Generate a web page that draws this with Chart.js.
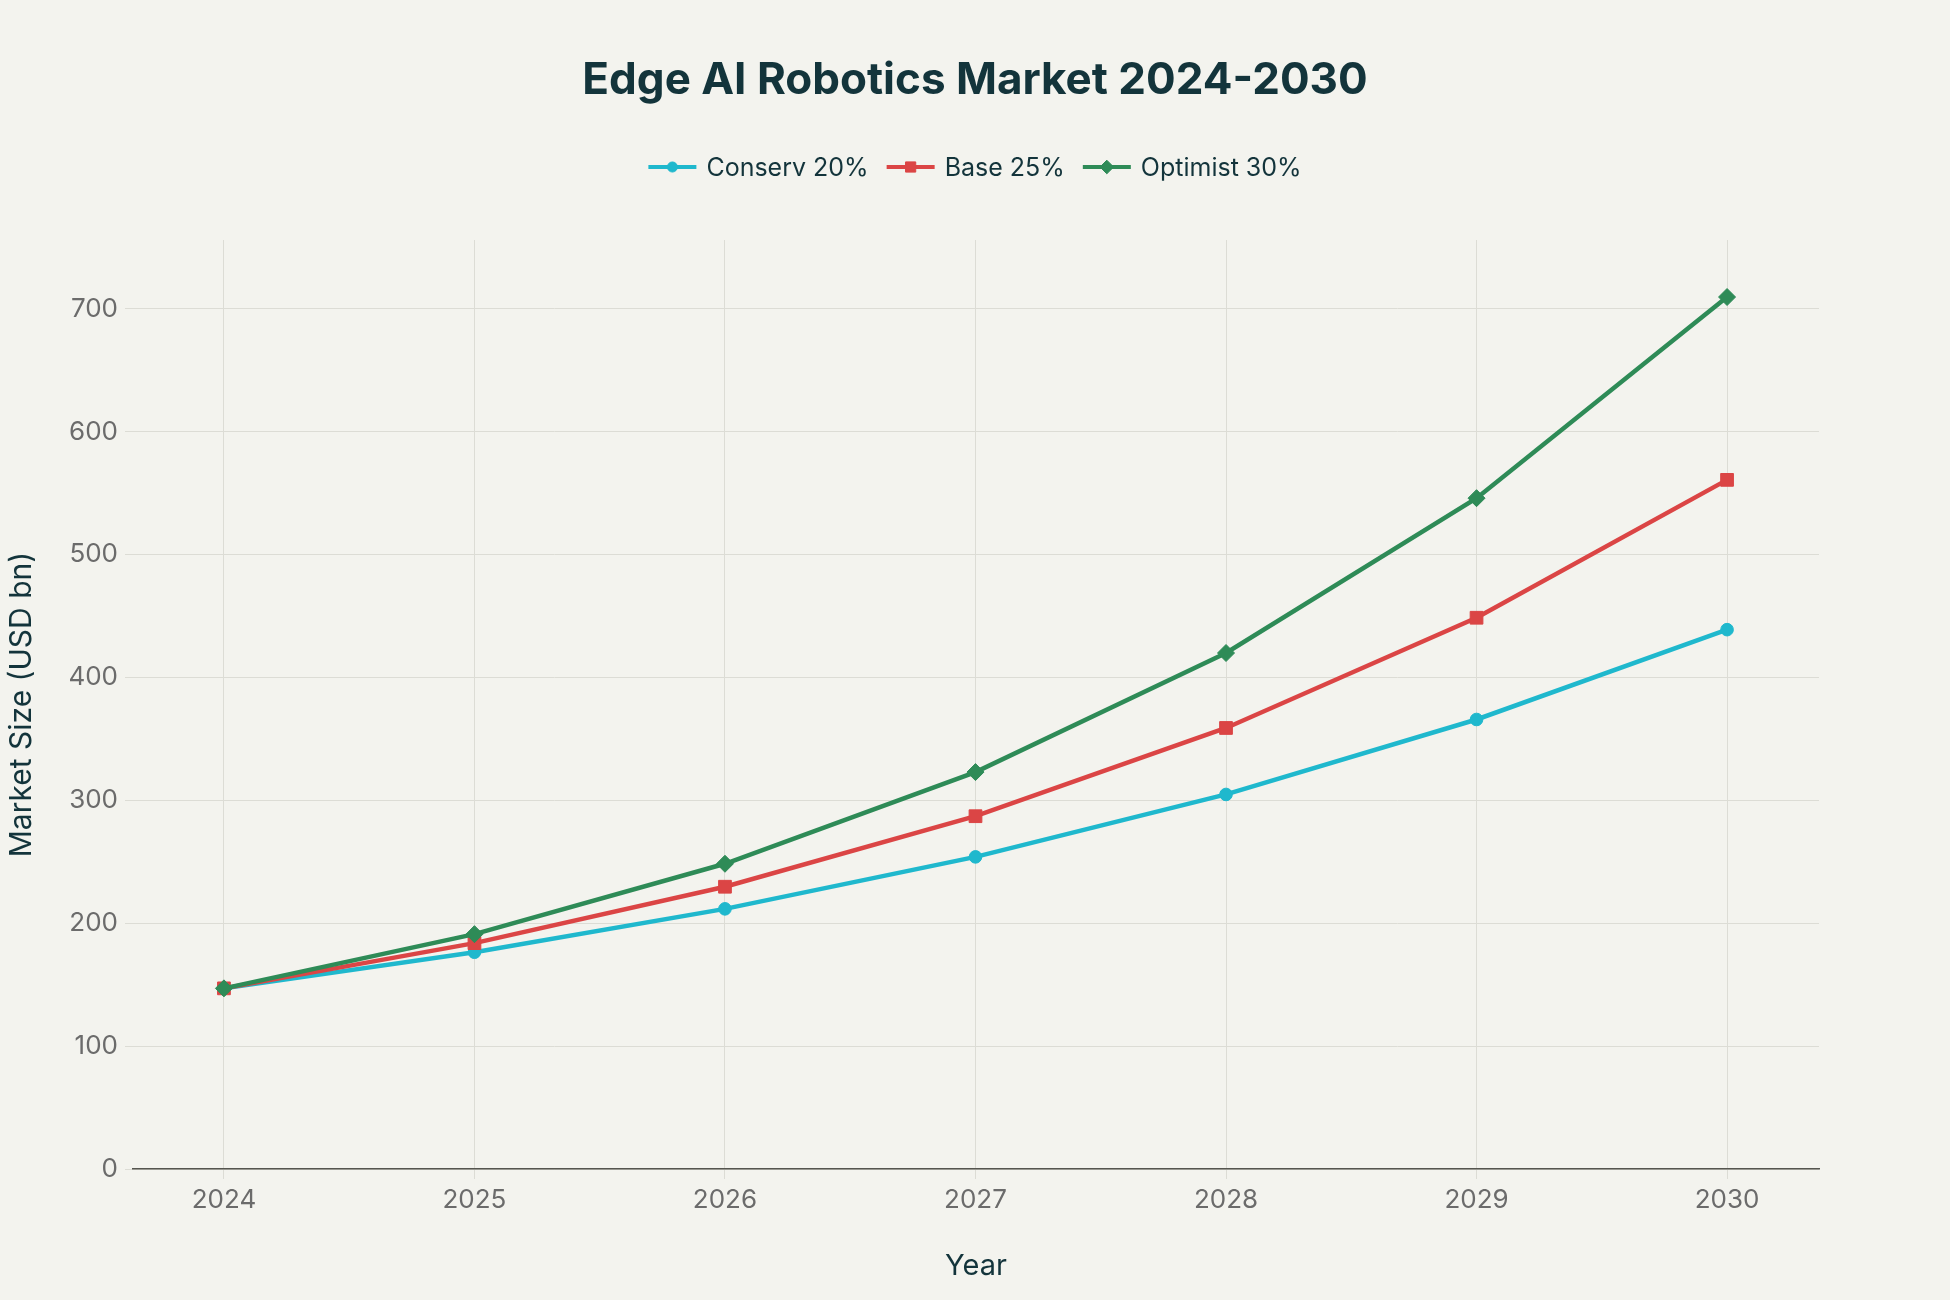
<!DOCTYPE html>
<html lang="en">
<head>
  <meta charset="UTF-8" />
  <title>Edge AI Robotics Market 2024-2030</title>
  <script src="https://cdn.jsdelivr.net/npm/chart.js"></script>
  <style>
    body { margin: 0; background: #f3f3ee; }
    #wrap { width: 1950px; height: 1300px; }
  </style>
</head>
<body>
  <div id="wrap"><canvas id="marketChart"></canvas></div>

  <script>
    // values (USD bn)
    const years = [2024, 2025, 2026, 2027, 2028, 2029, 2030];
    const conserv = [147, 176.4, 211.7, 254.0, 304.8, 365.8, 438.9];
    const base = [147, 183.8, 229.7, 287.1, 358.9, 448.6, 560.8];
    const optimist = [147, 191.1, 248.4, 323.0, 419.9, 545.9, 709.6];
    const yTicks = [0, 100, 200, 300, 400, 500, 600, 700];
    const chartTitle = 'Edge AI Robotics Market 2024-2030';

    const FONT = 'Inter';
    const DARK = '#13343b';
    const GRID = '#dcdcd5';

    // fill the page colour behind the chart
    const bgFill = {
      id: 'bgFill',
      beforeDraw(chart) {
        const ctx = chart.ctx;
        ctx.save();
        ctx.fillStyle = '#f3f3ee';
        ctx.fillRect(0, 0, chart.width, chart.height);
        ctx.restore();
      }
    };

    // title centred on the whole canvas + legend with line/marker symbols
    const header = {
      id: 'header',
      afterDraw(chart) {
        const ctx = chart.ctx;
        const sets = chart.data.datasets;
        ctx.save();
        ctx.textBaseline = 'middle';
        ctx.textAlign = 'center';
        ctx.fillStyle = DARK;
        ctx.font = 'bold 44px ' + FONT;
        ctx.fillText(chartTitle, chart.width / 2, 81);

        const symW = 48, gap = 10, itemGap = 18, y = 167;
        ctx.font = '25px ' + FONT;
        ctx.textAlign = 'left';
        const widths = sets.map(ds => symW + gap + ctx.measureText(ds.label).width);
        const total = widths.reduce((a, b) => a + b, 0) + itemGap * (sets.length - 1);
        let x = (chart.width - total) / 2;
        sets.forEach((ds, i) => {
          ctx.strokeStyle = ds.borderColor;
          ctx.fillStyle = ds.borderColor;
          ctx.lineWidth = 4;
          ctx.beginPath();
          ctx.moveTo(x, y);
          ctx.lineTo(x + symW, y);
          ctx.stroke();
          ctx.lineWidth = 1;
          Chart.helpers.drawPoint(ctx, {
            pointStyle: ds.pointStyle,
            radius: ds.pointRadius * 0.8,
            borderWidth: 1
          }, x + symW / 2, y);
          ctx.fillStyle = DARK;
          ctx.fillText(ds.label, x + symW + gap, y + 1);
          x += widths[i] + itemGap;
        });
        ctx.restore();
      }
    };

    function series(label, values, color, style, radius, order) {
      return {
        label: label,
        data: years.map((yr, i) => ({ x: yr, y: values[i] })),
        borderColor: color,
        backgroundColor: color,
        borderWidth: 4.5,
        pointStyle: style,
        pointRadius: radius,
        pointHoverRadius: radius,
        pointBorderWidth: 1,
        tension: 0,
        order: order
      };
    }

    new Chart('marketChart', {
      type: 'line',
      data: {
        datasets: [
          series('Conserv 20%', conserv, '#1fb8cd', 'circle', 6.3, 3),
          series('Base 25%', base, '#db4545', 'rect', 9, 2),
          series('Optimist 30%', optimist, '#2e8b57', 'rectRot', 8.5, 1)
        ]
      },
      options: {
        responsive: true,
        maintainAspectRatio: false,
        animation: false,
        layout: { padding: { left: 0, right: 131, top: 240, bottom: 0 } },
        plugins: {
          legend: { display: false },
          tooltip: { enabled: false },
          title: { display: false }
        },
        scales: {
          x: {
            type: 'linear',
            min: 2023.637,
            max: 2030.367,
            afterBuildTicks: s => { s.ticks = years.map(v => ({ value: v })); },
            afterFit: s => { s.height = 131; },
            ticks: {
              color: '#6b6b6b',
              font: { family: FONT, size: 26 },
              padding: 6,
              callback: v => String(v)
            },
            grid: { color: GRID, lineWidth: 1, tickLength: 10, tickColor: GRID },
            border: { display: true, color: '#55554f', width: 1.5 },
            title: {
              display: true,
              text: 'Year',
              color: DARK,
              font: { family: FONT, size: 29 },
              padding: { top: 0, bottom: 16 }
            }
          },
          y: {
            min: 0,
            max: 756,
            afterBuildTicks: s => { s.ticks = yTicks.map(v => ({ value: v })); },
            afterFit: s => { s.width = 133; },
            ticks: {
              color: '#6b6b6b',
              font: { family: FONT, size: 26 },
              padding: 7
            },
            grid: { color: GRID, lineWidth: 1, tickLength: 8, tickColor: GRID },
            border: { display: false },
            title: {
              display: true,
              text: 'Market Size (USD bn)',
              color: DARK,
              font: { family: FONT, size: 30 },
              padding: { top: 4, bottom: 0 }
            }
          }
        }
      },
      plugins: [bgFill, header]
    });
  </script>
</body>
</html>
